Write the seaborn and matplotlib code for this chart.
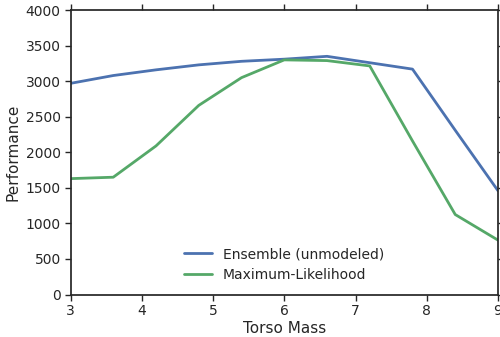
import pandas as pd
import matplotlib
matplotlib.use('Agg')
import matplotlib.pyplot as plt
import seaborn as sns

# Values
torso_mass = [3.0, 3.6, 4.2, 4.8, 5.4, 6.0, 6.6, 7.2, 7.8, 8.4, 9.0]
ensemble = [2970, 3080, 3160, 3230, 3280, 3310, 3350, 3260, 3170, 2310, 1460]
max_likelihood = [1630, 1650, 2090, 2660, 3050, 3300, 3290, 3215, 2160, 1125, 765]
series_names = ['Ensemble (unmodeled)', 'Maximum-Likelihood']

df = pd.DataFrame({
    'Torso Mass': torso_mass * 2,
    'Performance': ensemble + max_likelihood,
    'Method': [series_names[0]] * len(torso_mass) + [series_names[1]] * len(torso_mass),
})

sns.set_theme(style='ticks', context='notebook')
plt.rcParams['font.family'] = ['DejaVu Sans']

fig, ax = plt.subplots(figsize=(5, 3.37), dpi=100)
sns.lineplot(data=df, x='Torso Mass', y='Performance', hue='Method',
             palette=['#4C72B0', '#55A868'], linewidth=2, ax=ax)

ax.set_xlim(3, 9)
ax.set_ylim(0, 4000)
ax.set_xticks(range(3, 10))
ax.set_yticks(range(0, 4001, 500))
ax.tick_params(top=True, right=True, direction='out', labelsize=10,
               length=4, width=1, pad=3)
ax.set_xlabel('Torso Mass', fontsize=11, labelpad=2)
ax.set_ylabel('Performance', fontsize=11, labelpad=4)
ax.legend(loc='lower center', frameon=False, fontsize=10)

fig.subplots_adjust(left=0.141, right=0.996, top=0.97, bottom=0.126)
fig.savefig('out.png', dpi=100)
